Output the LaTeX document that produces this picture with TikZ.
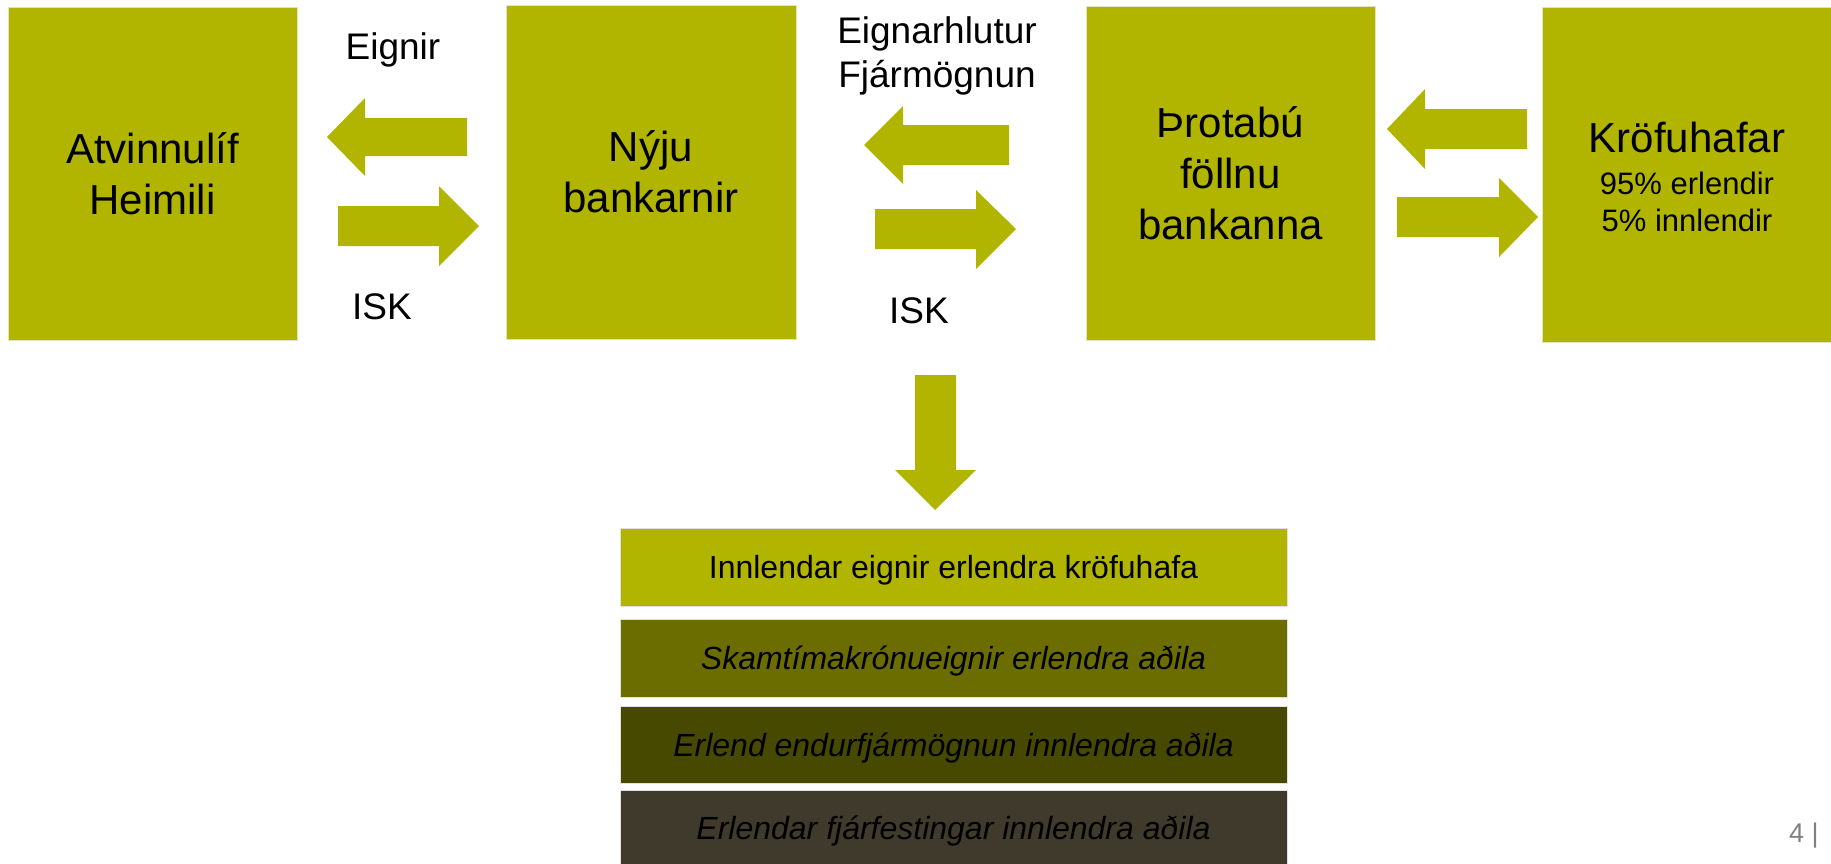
\documentclass[tikz,border=0pt]{standalone}
\usepackage{fontspec}
\setmainfont{Liberation Sans}
\definecolor{olv}{RGB}{177,181,0}
\definecolor{olvedge}{RGB}{226,228,190}
\definecolor{bartwo}{RGB}{107,109,0}
\definecolor{barthree}{RGB}{72,73,0}
\definecolor{barfour}{RGB}{63,58,44}
\definecolor{pagegrey}{RGB}{128,128,128}
\begin{document}
\begin{tikzpicture}[x=1pt,y=-1pt,
  bigbox/.style={fill=olv, draw=olvedge, line width=1pt, inner sep=0pt, align=center,
    font=\fontsize{42}{51}\selectfont},
  bigtxt/.style={anchor=base, inner sep=0pt, font=\fontsize{42}{51}\selectfont},
  smalltxt/.style={anchor=base, inner sep=0pt, font=\fontsize{31}{37}\selectfont},
  flowtxt/.style={anchor=base, inner sep=0pt, font=\fontsize{37}{44}\selectfont},
  barbox/.style={draw=white!88!black, line width=1pt, inner sep=0pt, minimum width=667pt,
    font=\fontsize{32}{38}\selectfont, text height=23pt, text depth=0pt},
  blockarrow/.style={fill=olv, draw=none}]
\useasboundingbox (0,0) rectangle (1831,863);

% main boxes
\node[bigbox, minimum width=289pt, minimum height=333pt] (atv) at (152.5,173.5) {Atvinnulíf\\Heimili};
\node[bigbox, minimum width=290pt, minimum height=334pt] (nyju) at (651,172) {Nýju\\bankarnir};
\node[bigbox, minimum width=289pt, minimum height=334pt] (throt) at (1230.5,173) {Þrotabú\\föllnu\\bankanna};
\node[bigbox, minimum width=289pt, minimum height=335pt] (krof) at (1686.5,174.5) {};
\node[bigtxt] (kroftitle) at (1687,152.5) {Kröfuhafar};
\node[smalltxt] (krofa) at (1687,194) {95\% erlendir};
\node[smalltxt] (krofb) at (1687,231) {5\% innlendir};

% flow labels
\node[flowtxt] (eignir) at (393,59) {Eignir};
\node[flowtxt] (iska) at (382,319) {ISK};
\node[flowtxt] (eignarh) at (937,43) {Eignarhlutur};
\node[flowtxt] (fjarm) at (937,87) {Fjármögnun};
\node[flowtxt] (iskb) at (919,323) {ISK};

% block arrows between atv and nyju
\fill[blockarrow] (467,118) -- (365,118) -- (365,98) -- (327,137) -- (365,176) -- (365,156) -- (467,156) -- cycle;
\fill[blockarrow] (338,206) -- (439,206) -- (439,186) -- (479,226) -- (439,266) -- (439,246) -- (338,246) -- cycle;
% block arrows between nyju and throt
\fill[blockarrow] (1009,125) -- (903,125) -- (903,106) -- (864,145) -- (903,184) -- (903,165) -- (1009,165) -- cycle;
\fill[blockarrow] (875,209) -- (976,209) -- (976,190) -- (1016,229) -- (976,269) -- (976,249) -- (875,249) -- cycle;
% block arrows between throt and krof
\fill[blockarrow] (1527,109) -- (1425,109) -- (1425,89) -- (1387,129) -- (1425,169) -- (1425,149) -- (1527,149) -- cycle;
\fill[blockarrow] (1397,197) -- (1499,197) -- (1499,178) -- (1538,217) -- (1499,257) -- (1499,237) -- (1397,237) -- cycle;
% down arrow
\fill[blockarrow] (915,375) -- (956,375) -- (956,470) -- (976,470) -- (935,510) -- (895,470) -- (915,470) -- cycle;

% stacked bars
\node[barbox, fill=olv, minimum height=78pt] (bara) at (953.5,567) {Innlendar eignir erlendra kröfuhafa};
\node[barbox, fill=bartwo, minimum height=78pt] (barb) at (953.5,658) {\itshape Skamtímakrónueignir erlendra aðila};
\node[barbox, fill=barthree, minimum height=77pt] (barc) at (953.5,744.5) {\itshape Erlend endurfjármögnun innlendra aðila};
\node[barbox, fill=barfour, minimum height=76pt] (bard) at (953.5,828) {\itshape Erlendar fjárfestingar innlendra aðila};

% page number
\node[anchor=base west, inner sep=0pt, text=pagegrey, font=\fontsize{27}{32}\selectfont] (pageno) at (1789,842) {4 |};
\end{tikzpicture}
\end{document}
